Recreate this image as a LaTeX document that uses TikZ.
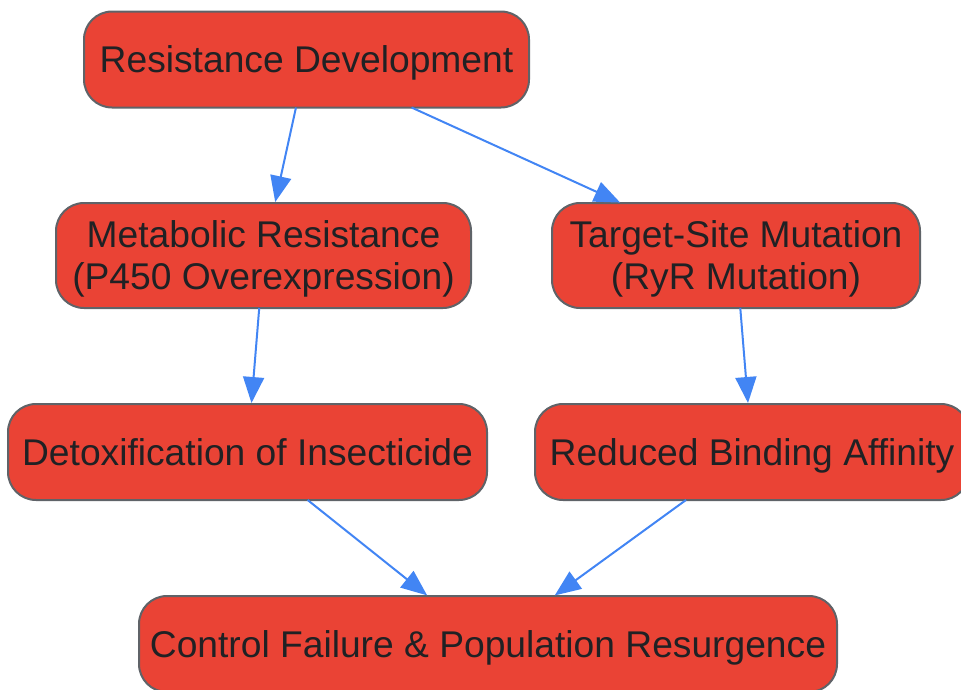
\documentclass[tikz,border=0pt]{standalone}
\usepackage{fontspec}
\setmainfont{Liberation Sans}
\usetikzlibrary{arrows.meta}
\definecolor{boxfill}{HTML}{EA4335}
\definecolor{boxline}{HTML}{5F6368}
\definecolor{boxtext}{HTML}{202124}
\definecolor{arrowblue}{HTML}{4285F4}
\begin{document}
\begin{tikzpicture}[x=1pt,y=-1pt,
  box/.style={draw=boxline, line width=2pt, fill=boxfill, rounded corners=28pt,
    text=boxtext, align=center, inner sep=0pt, outer sep=0pt, text depth=0pt,
    font=\fontsize{37.2}{42}\selectfont},
  conn/.style={draw=arrowblue, line width=2pt, -{Triangle[length=26pt,width=21pt]}, shorten >=1pt}]
\useasboundingbox (0,0) rectangle (961,689);
\node[box, minimum width=445pt, minimum height=96pt] (n1) at (306.5,59.5) {Resistance Development};
\node[box, minimum width=415pt, minimum height=105pt] (n2) at (263.5,255.5) {Metabolic Resistance\\(P450 Overexpression)};
\node[box, minimum width=368pt, minimum height=105pt] (n3) at (736,255.5) {Target-Site Mutation\\(RyR Mutation)};
\node[box, minimum width=479pt, minimum height=96pt] (n4) at (247.5,452) {Detoxification of Insecticide};
\node[box, minimum width=434pt, minimum height=96pt] (n5) at (752,452) {Reduced Binding Affinity};
\node[box, minimum width=698pt, minimum height=96pt] (n6) at (488,644) {Control Failure \& Population Resurgence};
\draw[conn] (n1) -- (n2);
\draw[conn] (n1) -- (n3);
\draw[conn] (n2) -- (n4);
\draw[conn] (n3) -- (n5);
\draw[conn] (n4) -- (n6);
\draw[conn] (n5) -- (n6);
\end{tikzpicture}
\end{document}
